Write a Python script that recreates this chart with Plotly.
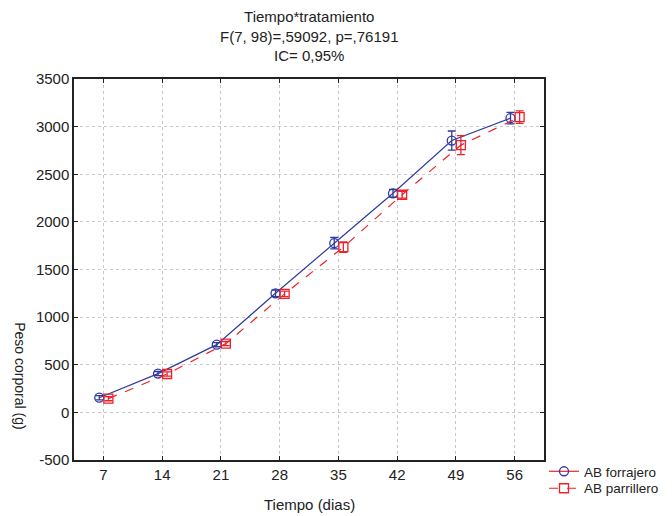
import plotly.graph_objects as go

dias = [7, 14, 21, 28, 35, 42, 49, 56]
forrajero = [154, 407, 711, 1250, 1776, 2300, 2854, 3089]
forrajero_err = [22, 22, 22, 35, 60, 40, 100, 60]
parrillero = [144, 403, 722, 1244, 1734, 2285, 2806, 3100]
parrillero_err = [22, 22, 22, 28, 55, 35, 100, 65]
y_ticks = [-500, 0, 500, 1000, 1500, 2000, 2500, 3000, 3500]

FONT = "Liberation Sans, Arial, sans-serif"
FS = 15
BLUE = "#2f3aa0"
RED = "#f0202a"
idx = list(range(len(dias)))

fig = go.Figure()
fig.add_trace(go.Scatter(
    x=[i - 0.07 for i in idx], y=forrajero, name="AB forrajero",
    mode="lines+markers", showlegend=False,
    line=dict(color=BLUE, width=1.2),
    marker=dict(symbol="circle-open", size=9, color=BLUE, line=dict(width=1.3)),
    error_y=dict(type="data", array=forrajero_err, color=BLUE, thickness=1.3, width=4),
))
fig.add_trace(go.Scatter(
    x=[i + 0.085 for i in idx], y=parrillero, name="AB parrillero",
    mode="lines+markers", showlegend=False,
    line=dict(color=RED, width=1.2, dash="dash"),
    marker=dict(symbol="square-open", size=9, color=RED, line=dict(width=1.3)),
    error_y=dict(type="data", array=parrillero_err, color=RED, thickness=1.3, width=4),
))
# legend entries (styled as in the original legend)
fig.add_trace(go.Scatter(
    x=[None], y=[None], name="AB forrajero", mode="lines+markers", legend="legend",
    line=dict(color=RED, width=1.2),
    marker=dict(symbol="circle-open", size=9, color=BLUE, line=dict(width=1.3)),
))
fig.add_trace(go.Scatter(
    x=[None], y=[None], name="AB parrillero", mode="lines+markers", legend="legend2",
    line=dict(color=RED, width=1.2, dash="dash"),
    marker=dict(symbol="square-open", size=9, color=RED, line=dict(width=1.3)),
))

# page body has an 8px margin; size the figure so it fills the 672x516 window
W, H = 664, 508
LFS = 13.5
fig.update_layout(
    width=W, height=H,
    margin=dict(l=66, r=128, t=71, b=56, autoexpand=False),
    paper_bgcolor="white", plot_bgcolor="white",
    font=dict(family=FONT, size=FS, color="#222"),
    showlegend=True,
    legend=dict(x=1.0, xanchor="left", y=0.0105, yanchor="top",
                bgcolor="rgba(0,0,0,0)", font=dict(size=LFS), itemwidth=30),
    legend2=dict(x=1.0, xanchor="left", y=-0.034, yanchor="top",
                 bgcolor="rgba(0,0,0,0)", font=dict(size=LFS), itemwidth=30),
    xaxis=dict(
        range=[-0.5, 7.5], tickmode="array", tickvals=idx, ticktext=[str(d) for d in dias],
        showgrid=True, gridcolor="#c8c8c8", griddash="dot", gridwidth=1,
        showline=True, linecolor="#222", linewidth=1.5, mirror="ticks",
        ticks="inside", ticklen=4, tickcolor="#222", zeroline=False,
        tickfont=dict(size=FS),
    ),
    yaxis=dict(
        range=[-500, 3500], tickmode="array", tickvals=y_ticks,
        ticktext=[str(v) for v in y_ticks],
        showgrid=True, gridcolor="#c8c8c8", griddash="dot", gridwidth=1,
        showline=True, linecolor="#222", linewidth=1.5, mirror="ticks",
        ticks="inside", ticklen=4, tickcolor="#222", zeroline=False,
        tickfont=dict(size=FS),
    ),
    annotations=[
        dict(text="Tiempo*tratamiento<br>F(7, 98)=,59092, p=,76191<br>IC= 0,95%",
             x=0.5, xref="paper", y=1.034, yref="paper", yanchor="bottom",
             showarrow=False, font=dict(size=FS), align="center"),
        dict(text="Tiempo (dias)", x=0.5, xref="paper", y=-0.118, yref="paper",
             yanchor="middle", showarrow=False, font=dict(size=FS)),
        dict(text="Peso corporal (g)", x=-0.115, xref="paper", y=0.22, yref="paper",
             xanchor="center", yanchor="middle",
             textangle=90, showarrow=False, font=dict(size=14)),
    ],
)

fig.write_html("out.html")
